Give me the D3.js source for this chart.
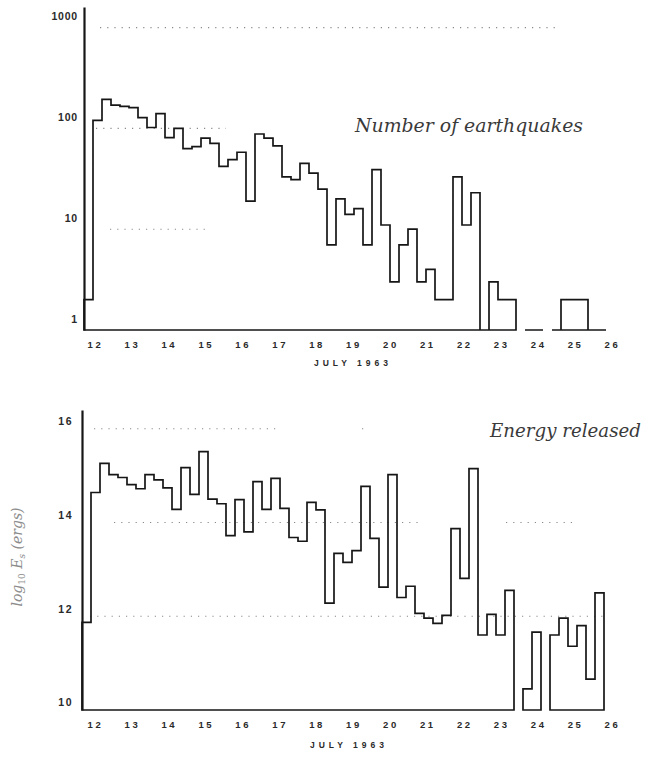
<!DOCTYPE html>
<html>
<head>
<meta charset="utf-8">
<script src="https://cdn.jsdelivr.net/npm/d3@7"></script>
<style>
  body { margin: 0; background: #fff; }
  svg { display: block; }
</style>
</head>
<body>
<svg id="chart" width="651" height="758"></svg>
<script>
// Six-hour bins, starting 18h on 11 July 1963
const binStart = 11.75;
const binWidth = 0.25;

// Number of earthquakes per bin (0 = no events, drawn as a gap)
const quakeCounts = [
  2, 120, 194, 170, 165, 161, 128, 102, 140, 81,
  100, 63, 66, 80, 71, 42, 49, 58, 19, 88,
  80, 67, 33, 31, 45, 36, 25, 7, 20, 14,
  16, 7, 39, 11, 3, 7, 10, 3, 4, 2,
  2, 33, 11, 23, 1, 3, 2, 2, 0, 1,
  1, 0, 1, 2, 2, 2, 1, 1
];

// log10 of seismic energy released per bin, ergs (null = no data)
const energyLog = [
  11.87, 14.64, 15.26, 15.02, 14.96, 14.81, 14.72, 15.02, 14.91, 14.74,
  14.28, 15.17, 14.60, 15.51, 14.50, 14.40, 13.72, 14.49, 13.80, 14.87,
  14.28, 14.94, 14.30, 13.68, 13.60, 14.43, 14.27, 12.28, 13.34, 13.15,
  13.40, 14.77, 13.66, 12.62, 15.02, 12.40, 12.64, 12.06, 11.96, 11.85,
  12.02, 13.87, 12.81, 15.15, 11.60, 12.04, 11.60, 12.55, null, 10.45,
  11.66, null, 11.60, 11.96, 11.36, 11.80, 10.66, 12.50
];

const dayLabels = [12, 13, 14, 15, 16, 17, 18, 19, 20, 21, 22, 23, 24, 25, 26];
const countTicks = [1, 10, 100, 1000];
const energyTicks = [10, 12, 14, 16];
const monthLabel = "JULY 1963";

const svg = d3.select("#chart");
const binEnd = binStart + binWidth * quakeCounts.length;

const ink = "#161616";
const tickFont = "'Liberation Sans', Arial, sans-serif";
const serif = "'DejaVu Serif', 'Liberation Serif', serif";

// outline of a histogram drawn from the baseline, broken where a bin is empty
function stepPath(values, x, y, base, valid) {
  let d = "";
  let i = 0;
  while (i < values.length) {
    if (!valid(values[i])) { i++; continue; }
    d += `M${x(binStart + i * binWidth)},${base}`;
    while (i < values.length && valid(values[i])) {
      d += `V${y(values[i])}H${x(binStart + (i + 1) * binWidth)}`;
      i++;
    }
    d += `V${base}Z`;
  }
  return d;
}

function dottedLine(g, x0, x1, yv) {
  g.append("line")
    .attr("x1", x0).attr("x2", x1).attr("y1", yv).attr("y2", yv)
    .attr("stroke", "#8a8a8a").attr("stroke-width", 1.1)
    .attr("stroke-dasharray", "1.2,6");
}

function dayAxis(g, range, yPos, monthY, monthX) {
  const lx = d3.scalePoint().domain(dayLabels).range(range);
  const ax = g.append("g")
    .attr("transform", `translate(0,${yPos})`)
    .call(d3.axisBottom(lx).tickSize(0).tickPadding(0));
  ax.select(".domain").remove();
  ax.selectAll("text")
    .attr("dy", "0.35em")
    .attr("font-family", tickFont).attr("font-size", 9.5).attr("font-weight", "bold")
    .attr("letter-spacing", "2.6px").attr("fill", "#2a2a2a");
  g.append("text")
    .attr("x", monthX).attr("y", monthY)
    .attr("text-anchor", "middle").attr("dy", "0.35em")
    .attr("font-family", tickFont).attr("font-size", 8.5).attr("font-weight", "bold")
    .attr("letter-spacing", "4px").attr("fill", "#2a2a2a")
    .text(monthLabel);
}

/* ---------- Number of earthquakes (log scale) ---------- */
const xTop = d3.scaleLinear().domain([binStart, binEnd]).range([84, 606]);
const yTop = d3.scaleLog().domain([1, 1600]).range([330, 7]);
const gTop = svg.append("g");

dottedLine(gTop, 100, 560, yTop(1000));
dottedLine(gTop, 96, 226, yTop(100));
dottedLine(gTop, 110, 210, yTop(10));

gTop.append("path")
  .attr("d", stepPath(quakeCounts, xTop, yTop, yTop(1), v => v > 0))
  .attr("fill", "none").attr("stroke", ink).attr("stroke-width", 1.7)
  .attr("stroke-linejoin", "miter");

const axTop = gTop.append("g")
  .attr("transform", `translate(${xTop(binStart)},0)`)
  .call(d3.axisLeft(yTop).tickValues(countTicks).tickFormat(d3.format("d"))
        .tickSize(0).tickSizeOuter(0).tickPadding(6));
axTop.select(".domain").attr("stroke", ink).attr("stroke-width", 2.2);
axTop.selectAll("text")
  .attr("dy", "-0.75em")
  .attr("font-family", tickFont).attr("font-size", 10.5).attr("font-weight", "bold")
  .attr("letter-spacing", "0.8px").attr("fill", "#2a2a2a");

dayAxis(gTop, [95, 612], 345, 363, 353);

gTop.append("text")
  .attr("x", 583).attr("y", 132).attr("text-anchor", "end")
  .attr("font-family", serif).attr("font-style", "italic").attr("font-size", 18)
  .attr("textLength", 228).attr("lengthAdjust", "spacingAndGlyphs")
  .attr("fill", "#3a3a3a")
  .text("Number of earthquakes");

/* ---------- Energy released (log10 ergs) ---------- */
const xBot = d3.scaleLinear().domain([binStart, binEnd]).range([82, 604]);
const yBot = d3.scaleLinear().domain([10, 16.4]).range([710, 410]);
const gBot = svg.append("g");

dottedLine(gBot, 94, 280, yBot(16));
dottedLine(gBot, 362, 368, yBot(16));
dottedLine(gBot, 114, 420, yBot(14));
dottedLine(gBot, 506, 578, yBot(14));
dottedLine(gBot, 90, 608, yBot(12));

gBot.append("path")
  .attr("d", stepPath(energyLog, xBot, yBot, yBot(10), v => v !== null))
  .attr("fill", "none").attr("stroke", ink).attr("stroke-width", 1.7)
  .attr("stroke-linejoin", "miter");

const axBot = gBot.append("g")
  .attr("transform", `translate(${xBot(binStart)},0)`)
  .call(d3.axisLeft(yBot).tickValues(energyTicks).tickFormat(d3.format("d"))
        .tickSize(0).tickSizeOuter(0).tickPadding(9));
axBot.select(".domain").attr("stroke", ink).attr("stroke-width", 2.2);
axBot.selectAll("text")
  .attr("dy", "-0.4em")
  .attr("font-family", tickFont).attr("font-size", 10.5).attr("font-weight", "bold")
  .attr("letter-spacing", "1.5px").attr("fill", "#2a2a2a");

dayAxis(gBot, [95, 612], 725, 745, 349);

gBot.append("text")
  .attr("x", 490).attr("y", 437)
  .attr("font-family", serif).attr("font-style", "italic").attr("font-size", 18)
  .attr("textLength", 151).attr("lengthAdjust", "spacingAndGlyphs")
  .attr("fill", "#3a3a3a")
  .text("Energy released");

// rotated y-axis title: log10 Es (ergs)
const yTitle = gBot.append("text")
  .attr("transform", "translate(22,557) rotate(-90)")
  .attr("text-anchor", "middle")
  .attr("font-family", serif).attr("font-style", "italic").attr("font-size", 14)
  .attr("fill", "#8c8c8c");
yTitle.append("tspan").text("log");
yTitle.append("tspan").attr("font-size", 9).attr("font-style", "normal").attr("dy", 3).text("10");
yTitle.append("tspan").attr("dy", -3).text(" E");
yTitle.append("tspan").attr("font-size", 9).attr("dy", 3).text("s");
yTitle.append("tspan").attr("dy", -3).text(" (ergs)");
</script>
</body>
</html>
